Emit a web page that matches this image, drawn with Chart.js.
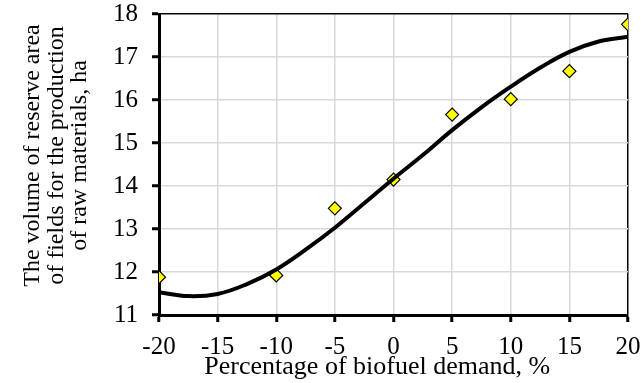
<!DOCTYPE html>
<html lang="en">
<head>
  <meta charset="UTF-8">
  <title>Reserve area vs biofuel demand</title>
  <script src="https://cdn.jsdelivr.net/npm/chart.js"></script>
  <style>
    body { margin: 0; background: #fff; }
    #chart { display: block; }
  </style>
</head>
<body>
  <canvas id="chart" width="644" height="383"></canvas>
  <script>
    // measured points (yellow diamonds)
    const demandPct = [-20, -10, -5, 0, 5, 10, 15, 20];
    const reserveArea = [11.88, 11.92, 13.48, 14.15, 15.66, 16.02, 16.67, 17.76];

    // trend curve
    const trendX = [-20, -17.5, -15, -12.5, -10, -7.5, -5, -2.5, 0, 2.5, 5, 7.5, 10, 12.5, 15, 17.5, 20];
    const trendY = [11.53, 11.44, 11.49, 11.72, 12.06, 12.52, 13.03, 13.6, 14.17, 14.72, 15.3, 15.83, 16.31, 16.75, 17.12, 17.36, 17.47];

    const xTicks = [-20, -15, -10, -5, 0, 5, 10, 15, 20];
    const yTicks = [11, 12, 13, 14, 15, 16, 17, 18];

    const fontFamily = '"Liberation Serif", "Times New Roman", serif';

    // the axis titles sit a little off-centre in the original, padded with spaces to match
    const xTitle = 'Percentage of biofuel demand, %' + '     ';
    const yTitle = ['The volume of reserve area', 'of fields for the production', 'of raw materials, ha'].map(s => '   ' + s);

    const ctx = document.getElementById('chart').getContext('2d');
    new Chart(ctx, {
      type: 'scatter',
      data: {
        datasets: [
          {
            label: 'Trend',
            data: trendX.map((x, i) => ({ x: x, y: trendY[i] })),
            showLine: true,
            borderColor: '#000',
            borderWidth: 4,
            pointRadius: 0,
            tension: 0.4,
            fill: false
          },
          {
            label: 'Data',
            data: demandPct.map((x, i) => ({ x: x, y: reserveArea[i] })),
            pointStyle: 'rectRot',
            pointRadius: 6.5,
            pointBackgroundColor: '#ffff00',
            pointBorderColor: '#000',
            pointBorderWidth: 1.2
          }
        ]
      },
      options: {
        responsive: false,
        animation: false,
        layout: { padding: 0 },
        plugins: {
          legend: { display: false },
          tooltip: { enabled: false }
        },
        scales: {
          x: {
            type: 'linear',
            min: -20,
            max: 20,
            afterBuildTicks: s => { s.ticks = xTicks.map(v => ({ value: v })); },
            afterFit: s => {
              s.height = 68;
              s.paddingLeft = 0;
              s.paddingRight = 16;
            },
            ticks: {
              color: '#000',
              padding: 10,
              font: { family: fontFamily, size: 25 }
            },
            grid: {
              color: c => (c.tick && c.tick.value === 20) ? '#000' : '#d9d9d9',
              lineWidth: 1.5,
              tickColor: '#000',
              tickWidth: 3,
              tickLength: 7
            },
            border: { color: '#000', width: 3 },
            title: {
              display: true,
              text: xTitle,
              color: '#000',
              font: { family: fontFamily, size: 26, lineHeight: 1 },
              padding: { top: 0, bottom: 3 }
            }
          },
          y: {
            type: 'linear',
            min: 11,
            max: 18,
            afterBuildTicks: s => { s.ticks = yTicks.map(v => ({ value: v })); },
            afterFit: s => {
              s.width = 159;
              s.paddingTop = 14;
              s.paddingBottom = 0;
            },
            ticks: {
              color: '#000',
              padding: 14,
              font: { family: fontFamily, size: 25 }
            },
            grid: {
              color: c => (c.tick && c.tick.value === 18) ? '#000' : '#d9d9d9',
              lineWidth: 1.5,
              tickColor: '#000',
              tickWidth: 3,
              tickLength: 7
            },
            border: { color: '#000', width: 3 },
            title: {
              display: true,
              text: yTitle,
              color: '#000',
              font: { family: fontFamily, size: 24, lineHeight: 0.98 },
              padding: { top: 21, bottom: 0 }
            }
          }
        }
      }
    });
  </script>
</body>
</html>
